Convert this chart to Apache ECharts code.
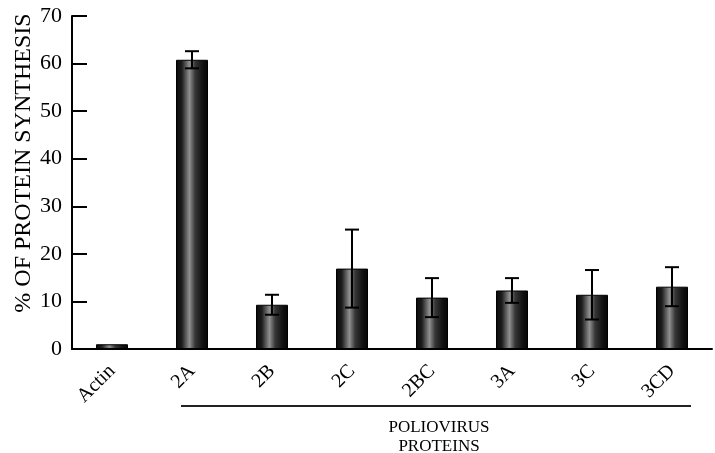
<!DOCTYPE html>
<html>
<head>
<meta charset="utf-8">
<style>html,body{margin:0;padding:0;background:#fff}#c{width:715px;height:453px}</style>
<script src="https://cdn.jsdelivr.net/npm/echarts@6/dist/echarts.min.js"></script>
</head>
<body>
<div id="c"></div>
<script>
const categories = ['Actin', '2A', '2B', '2C', '2BC', '3A', '3C', '3CD'];
const means = [1.0, 60.8, 9.3, 16.9, 10.8, 12.3, 11.4, 13.1];
const errors = [0, 1.8, 2.1, 8.2, 4.1, 2.6, 5.2, 4.1];
const yTicks = [0, 10, 20, 30, 40, 50, 60, 70];
const yTitle = '% OF PROTEIN SYNTHESIS';
const groupLabel = 'POLIOVIRUS\nPROTEINS';

const serif = '"Liberation Serif", "Times New Roman", serif';
const errData = means.map((m, i) => errors[i] > 0 ? [i, m - errors[i], m + errors[i]] : null).filter(d => d);

const barGrad = new echarts.graphic.LinearGradient(0, 0, 1, 0, [
  {offset: 0, color: '#080808'},
  {offset: 0.18, color: '#1c1c1c'},
  {offset: 0.42, color: '#909090'},
  {offset: 0.6, color: '#353535'},
  {offset: 0.85, color: '#101010'},
  {offset: 1, color: '#060606'}
]);

const chart = echarts.init(document.getElementById('c'), null, {renderer: 'canvas'});
chart.setOption({
  animation: false,
  backgroundColor: '#fff',
  grid: {left: 72, right: 3, top: 16, bottom: 104, containLabel: false},
  xAxis: {
    type: 'category',
    data: categories,
    axisLine: {lineStyle: {color: '#000', width: 2}},
    axisTick: {inside: true, length: 9, lineStyle: {color: '#000', width: 2}},
    axisLabel: {rotate: 45, margin: 19, fontFamily: serif, fontSize: 20, color: '#000', interval: 0}
  },
  yAxis: {
    type: 'value',
    min: yTicks[0], max: yTicks[yTicks.length - 1], interval: 10,
    axisLine: {show: true, lineStyle: {color: '#000', width: 2}},
    axisTick: {show: true, inside: true, length: 15, lineStyle: {color: '#000', width: 2}},
    axisLabel: {margin: 10, fontFamily: serif, fontSize: 22, color: '#000'},
    splitLine: {show: false}
  },
  series: [
    {
      type: 'bar',
      data: means,
      barWidth: 32,
      itemStyle: {color: barGrad, borderColor: '#000', borderWidth: 1}
    },
    {
      type: 'custom',
      data: errData,
      encode: {x: 0, y: [1, 2]},
      z: 10,
      renderItem: function (params, api) {
        const x = api.value(0);
        const lo = api.coord([x, api.value(1)]);
        const hi = api.coord([x, api.value(2)]);
        const hw = 7;
        const st = {stroke: '#000', lineWidth: 2};
        return {
          type: 'group',
          children: [
            {type: 'line', shape: {x1: hi[0], y1: hi[1], x2: lo[0], y2: lo[1]}, style: st},
            {type: 'line', shape: {x1: hi[0] - hw, y1: hi[1], x2: hi[0] + hw, y2: hi[1]}, style: st},
            {type: 'line', shape: {x1: lo[0] - hw, y1: lo[1], x2: lo[0] + hw, y2: lo[1]}, style: st}
          ]
        };
      }
    }
  ],
  graphic: [
    {
      type: 'text', x: 24, y: 163, rotation: Math.PI / 2,
      style: {text: yTitle, font: '24px ' + serif, fill: '#000', align: 'center', verticalAlign: 'middle'}
    },
    {
      type: 'line', shape: {x1: 181, y1: 406, x2: 691, y2: 406},
      style: {stroke: '#222', lineWidth: 2}
    },
    {
      type: 'text', x: 439, y: 437,
      style: {text: groupLabel, font: '17px ' + serif, fill: '#000', align: 'center', verticalAlign: 'middle', lineHeight: 19}
    }
  ]
});
</script>
</body>
</html>
